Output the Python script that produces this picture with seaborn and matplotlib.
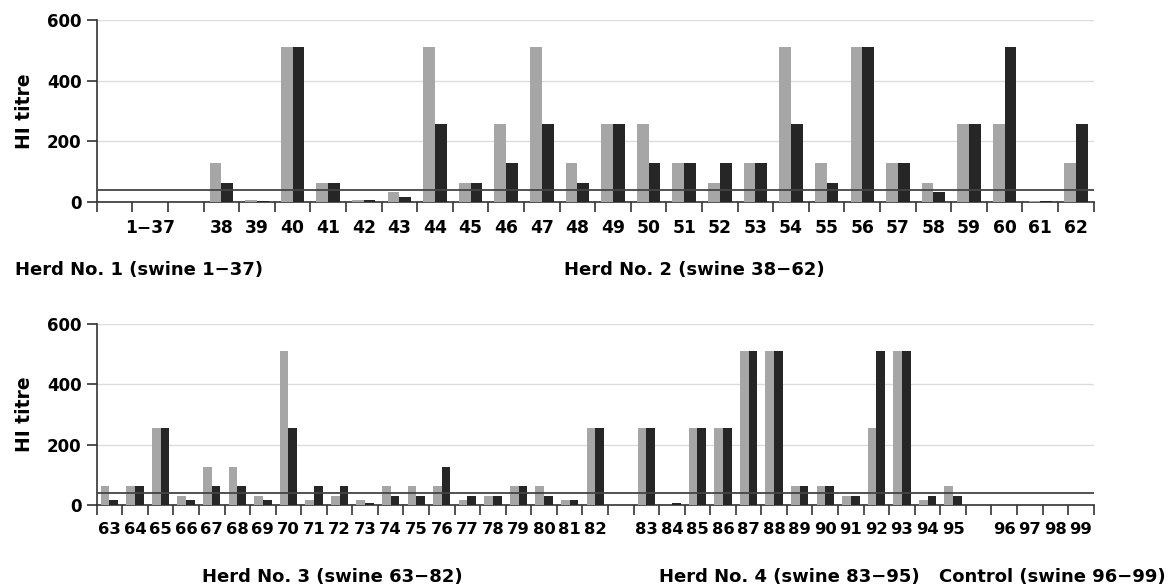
import matplotlib
matplotlib.use("Agg")
import matplotlib.pyplot as plt
import seaborn as sns
import pandas as pd
import numpy as np

sns.set_theme(style="white")
plt.rcParams['font.family'] = ['DejaVu Sans']
plt.rcParams['text.color'] = 'black'
plt.rcParams['axes.labelcolor'] = 'black'
plt.rcParams['xtick.color'] = 'black'
plt.rcParams['ytick.color'] = 'black'

M = "\u2212"

# ---- data: top panel (herds 1 and 2) ----
top_slots = ["g1", "1" + M + "37", "g2"] + [str(i) for i in range(38, 63)]
top_swine = [str(i) for i in range(38, 63)]
top_light = [128, 8, 512, 64, 8, 32, 512, 64, 256, 512, 128, 256, 256, 128,
             64, 128, 512, 128, 512, 128, 64, 256, 256, 2, 128]
top_dark = [64, 4, 512, 64, 8, 16, 256, 64, 128, 256, 64, 256, 128, 128,
            128, 128, 256, 64, 512, 128, 32, 256, 512, 4, 256]

# ---- data: bottom panel (herds 3, 4 and control) ----
bot_swine = [str(i) for i in range(63, 83)] + [str(i) for i in range(83, 96)] + \
            [str(i) for i in range(96, 100)]
bot_slots = [str(i) for i in range(63, 83)] + ["g3"] + [str(i) for i in range(83, 96)] + \
            ["g4"] + [str(i) for i in range(96, 100)]
bot_light = [64, 64, 256, 32, 128, 128, 32, 512, 16, 32, 16, 64, 64, 64, 16, 32, 64, 64, 16, 256,
             256, 2, 256, 256, 512, 512, 64, 64, 32, 256, 512, 16, 64,
             0, 0, 2, 0]
bot_dark = [16, 64, 256, 16, 64, 64, 16, 256, 64, 64, 8, 32, 32, 128, 32, 32, 64, 32, 16, 256,
            256, 8, 256, 256, 512, 512, 64, 64, 32, 512, 512, 32, 32,
            0, 0, 0, 0]

threshold = 40
yticks = [0, 200, 400, 600]
series = ["Series A", "Series B"]
colors = ["#a6a6a6", "#262626"]

herd_labels_top = ["Herd No. 1 (swine 1" + M + "37)", "Herd No. 2 (swine 38" + M + "62)"]
herd_labels_bot = ["Herd No. 3 (swine 63" + M + "82)", "Herd No. 4 (swine 83" + M + "95)",
                   "Control (swine 96" + M + "99)"]


def make_df(swine, light, dark):
    return pd.DataFrame({
        "swine": swine * 2,
        "titre": list(light) + list(dark),
        "series": [series[0]] * len(swine) + [series[1]] * len(swine),
    })


fig = plt.figure(figsize=(11.69, 5.85), dpi=100)
ax1 = fig.add_axes([0.0827, 0.6547, 0.8529, 0.3111])
ax2 = fig.add_axes([0.0827, 0.1362, 0.8529, 0.3100])


def style(ax, slots, label_map, fs):
    n = len(slots)
    ax.set_xlim(-0.5, n - 0.5)
    ax.set_ylim(0, 600)
    ax.set_yticks(yticks)
    ax.yaxis.grid(True, color="#dcdcdc", linewidth=1.0)
    ax.set_axisbelow(True)
    ax.axhline(threshold, color="#444444", linewidth=1.3, zorder=5)
    for s in ["top", "right"]:
        ax.spines[s].set_visible(False)
    for s in ["left", "bottom"]:
        ax.spines[s].set_color("#333333")
        ax.spines[s].set_linewidth(1.2)
    ax.set_xticks(range(n))
    ax.set_xticklabels([label_map.get(s, "") for s in slots], fontsize=fs, fontweight="bold")
    ax.set_xticks(np.arange(-0.5, n, 1.0), minor=True)
    ax.tick_params(axis="x", which="major", length=0, pad=12)
    ax.tick_params(axis="x", which="minor", length=7, width=1.2, color="#333333", bottom=True)
    ax.tick_params(axis="y", length=7, width=1.2, color="#333333", labelcolor="black",
                   pad=4, left=True, labelsize=12)
    for t in ax.get_yticklabels():
        t.set_fontweight("bold")
    ax.set_ylabel("HI titre", fontsize=13.5, fontweight="bold", labelpad=9, color="black")
    ax.set_xlabel("")
    leg = ax.get_legend()
    if leg:
        leg.remove()


df_top = make_df(top_swine, top_light, top_dark)
sns.barplot(data=df_top, x="swine", y="titre", hue="series", order=top_slots,
            hue_order=series, palette=colors, width=0.66, dodge=True,
            saturation=1, errorbar=None, ax=ax1, zorder=3)
style(ax1, top_slots, {s: s for s in top_slots if not s.startswith("g")}, 12.3)

df_bot = make_df(bot_swine, bot_light, bot_dark)
sns.barplot(data=df_bot, x="swine", y="titre", hue="series", order=bot_slots,
            hue_order=series, palette=colors, width=0.68, dodge=True,
            saturation=1, errorbar=None, ax=ax2, zorder=3)
style(ax2, bot_slots, {s: s for s in bot_slots if not s.startswith("g")}, 11.8)

for b in ax1.patches + ax2.patches:
    b.set_edgecolor("none")

fkw = dict(fontsize=13, fontweight="bold", va="center", color="black")
fig.text(15 / 1169, 1 - 270 / 585, herd_labels_top[0], ha="left", **fkw)
fig.text(694 / 1169, 1 - 270 / 585, herd_labels_top[1], ha="center", **fkw)
fig.text(332 / 1169, 1 - 577 / 585, herd_labels_bot[0], ha="center", **fkw)
fig.text(789 / 1169, 1 - 577 / 585, herd_labels_bot[1], ha="center", **fkw)
fig.text(1052 / 1169, 1 - 577 / 585, herd_labels_bot[2], ha="center", **fkw)

fig.savefig("out.png", dpi=100)
